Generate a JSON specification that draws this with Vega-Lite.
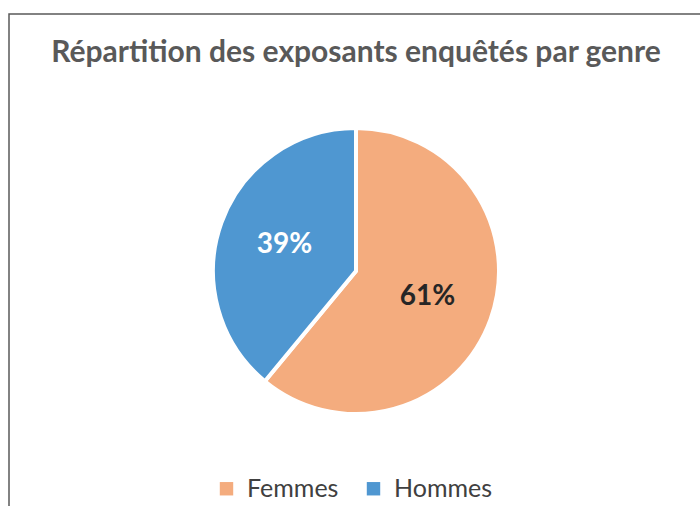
{
  "$schema": "https://vega.github.io/schema/vega-lite/v6.json",
  "autosize": "none",
  "width": 694,
  "height": 514,
  "padding": {"left": 9, "top": 14, "right": 0, "bottom": 0},
  "background": "white",
  "view": {"stroke": "#595959", "strokeWidth": 1.5},
  "config": {
    "font": "Lato"
  },
  "title": {
    "text": "Répartition des exposants enquêtés par genre",
    "font": "Lato",
    "fontSize": 30,
    "fontWeight": "bold",
    "color": "#595959",
    "anchor": "middle",
    "baseline": "middle",
    "offset": -69
  },
  "data": {
    "values": [
      {"genre": "Femmes", "pct": 61, "label": "61%"},
      {"genre": "Hommes", "pct": 39, "label": "39%"}
    ]
  },
  "encoding": {
    "theta": {"field": "pct", "type": "quantitative", "stack": true},
    "order": {"field": "genre", "type": "nominal", "sort": "ascending"}
  },
  "layer": [
    {
      "mark": {"type": "arc", "outerRadius": 143, "stroke": "white", "strokeWidth": 4},
      "encoding": {
        "color": {
          "field": "genre",
          "type": "nominal",
          "scale": {"domain": ["Femmes", "Hommes"], "range": ["#F4AC7E", "#4F97D1"]},
          "legend": {
            "title": null,
            "orient": "none",
            "direction": "horizontal",
            "legendX": 205,
            "legendY": 462,
            "symbolType": "square",
            "symbolSize": 180,
            "symbolStrokeWidth": 0,
            "labelFontSize": 25,
            "labelFont": "Lato",
            "labelColor": "#404040",
            "columnPadding": 22,
            "labelOffset": 8
          }
        }
      }
    },
    {
      "mark": {"type": "text", "radius": 76, "fontSize": 28, "fontWeight": "bold", "font": "Lato"},
      "encoding": {
        "text": {"field": "label", "type": "nominal"},
        "color": {
          "condition": {"test": "datum.genre === 'Hommes'", "value": "white"},
          "value": "#262626"
        }
      }
    }
  ]
}
